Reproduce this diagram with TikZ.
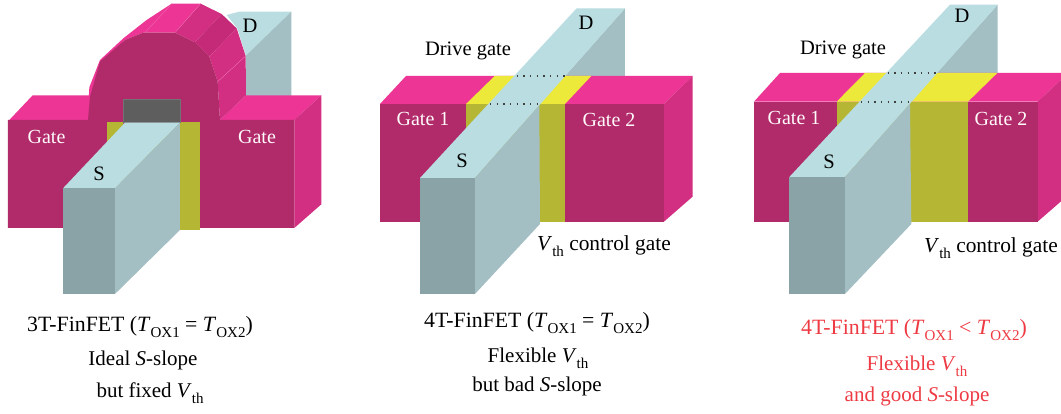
\documentclass[tikz,border=0pt]{standalone}
\usepackage{fontspec}
\setmainfont{Liberation Serif}
\definecolor{pinktop}{HTML}{EC3594}
\definecolor{pinkfront}{HTML}{B12A6A}
\definecolor{pinkside}{HTML}{D22F82}
\definecolor{pinkmid}{HTML}{C42A78}
\definecolor{pinkline}{HTML}{F06BB0}
\definecolor{yeltop}{HTML}{EDE93A}
\definecolor{yelfront}{HTML}{B5B634}
\definecolor{fintop}{HTML}{B9DDE1}
\definecolor{finside}{HTML}{A3BFC3}
\definecolor{finfront}{HTML}{8AA3A7}
\definecolor{capred}{HTML}{EE3A43}
\newcommand{\sbx}[1]{\raisebox{-0.28em}{\fontsize{15}{16}\selectfont #1}}
\newcommand{\Vth}{\textit{V}\sbx{th}}
\newcommand{\Tox}[1]{\textit{T}\sbx{OX#1}}
\tikzset{
  lbl/.style={inner sep=0pt,font=\fontsize{20.5}{22}\selectfont,text=black},
  wlbl/.style={lbl,font=\fontsize{20}{22}\selectfont,text=white!92!pink},
  vtlbl/.style={lbl,font=\fontsize{21.4}{23}\selectfont},
  captxt/.style={lbl,font=\fontsize{21}{23}\selectfont},
  caphead/.style={lbl,font=\fontsize{21.8}{23}\selectfont},
  redcap/.style={captxt,text=capred},
  redhead/.style={caphead,text=capred},
  ptop/.style={fill=pinktop},
  pfront/.style={fill=pinkfront},
  pside/.style={fill=pinkside},
  pmid/.style={fill=pinkmid},
  ytop/.style={fill=yeltop},
  yfront/.style={fill=yelfront},
  ftop/.style={fill=fintop},
  fside/.style={fill=finside},
  ffront/.style={fill=finfront},
  facet/.style={draw=pinkline,line width=0.35pt},
  dots/.style={draw=black!75,line width=1.4pt,dash pattern=on 1.4pt off 5.27pt}
}
\begin{document}
\begin{tikzpicture}[x=1pt,y=-1pt]
\useasboundingbox (0,0) rectangle (1061,413);
\fill[white] (0,0) rectangle (1061,413);
% ---- Panel 1 (coordinates in zoomed px /3)
\begin{scope}[x=0.3333pt,y=-0.3333pt]
  % back fin D
  \path[ftop] (680,45) -- (718,35) -- (874,35) -- (738,168) -- (712,85) -- cycle;
  \path[fside] (737,168) -- (874,35) -- (874,290) -- (737,290) -- cycle;
  % gate tops and side
  \path[ptop] (28,360) -- (98,286) -- (275,286) -- (270,360) -- cycle;
  \path[ptop] (660,360) -- (738,286) -- (964,286) -- (883,360) -- cycle;
  \path[pside] (883,360) -- (964,286) -- (964,613) -- (883,684) -- cycle;
  % arch depth facets
  \path[ptop] (264,340) -- (268,262) -- (300,180) -- (370,115) -- (440,60) -- (515,11) -- (602,11) -- (525,98) -- (430,98) -- (375,120) -- (300,190) -- (272,290) -- cycle;
  \path[pside] (525,98) -- (602,11) -- (665,42) -- (585,127) -- cycle;
  \path[pmid] (585,127) -- (665,42) -- (710,85) -- (628,170) -- cycle;
  \path[pside] (628,170) -- (710,85) -- (737,168) -- (653,245) -- cycle;
  \path[pside] (653,245) -- (737,168) -- (738,286) -- (660,360) -- cycle;
  \draw[facet] (435,98) -- (515,11);
  \draw[facet] (525,98) -- (602,11);
  \draw[facet] (653,245) -- (737,168);
  % front
  \path[pfront] (24,360) -- (264,360) -- (270,290) -- (300,185) -- (375,120) -- (430,98) -- (525,98) -- (585,127) -- (628,170) -- (653,245) -- (660,360) -- (883,360) -- (883,684) -- (24,684) -- cycle;
  % oxide
  \path[yfront] (321,366) rectangle (600,690);
  \path[pfront] (370,366) -- (381,366) -- (370,378) -- cycle;
  % dark channel opening
  \filldraw[fill=black!63,draw=black!55,line width=1.4pt] (371,298) rectangle (542,367);
  % fin
  \path[ftop] (189,565) -- (345,565) -- (540,368) -- (375,368) -- cycle;
  \path[fside] (345,565) -- (540,368) -- (540,690) -- (345,882) -- cycle;
  \path[ffront] (189,565) rectangle (345,882);
\end{scope}
\node[wlbl] (g1l) at (46.5,137) {Gate};
\node[wlbl] (g1r) at (257,137) {Gate};
\node[lbl] (s1) at (99,174) {S};
\node[lbl] (d1) at (250,26) {D};
% ---- Panel 2
\begin{scope}[shift={(370pt,0pt)},x=0.3333pt,y=-0.3333pt]
  \path[fside] (585,228) -- (765,25) -- (765,228) -- cycle;
  \path[ptop] (30,312) -- (108,228) -- (968,228) -- (882,312) -- cycle;
  \path[pside] (882,312) -- (968,228) -- (968,590) -- (882,665) -- cycle;
  \path[pfront] (30,312) rectangle (882,665);
  \path[ytop] (288,312) -- (374,228) -- (664,228) -- (585,312) -- cycle;
  \path[yfront] (288,312) rectangle (585,665);
  \path[ftop] (150,534) -- (315,534) -- (765,25) -- (620,25) -- cycle;
  \path[fside] (315,534) -- (508,316) -- (510,672) -- (315,882) -- cycle;
  \path[ffront] (150,534) rectangle (315,882);
  \coordinate (a2) at (440,228); \coordinate (b2) at (585,228);
  \coordinate (c2) at (360,312); \coordinate (e2) at (505,312);
  \draw[dots] (a2) -- (b2);
  \draw[dots] (c2) -- (e2);
\end{scope}
\node[wlbl] (g21) at (423,119) {Gate 1};
\node[wlbl] (g22) at (609,120) {Gate 2};
\node[lbl] (s2) at (462,161) {S};
\node[lbl] (d2) at (586,23) {D};
\node[lbl] (dg2) at (468,51) {Drive gate};
\node[vtlbl] (vt2) at (604,246) {\Vth\ control gate};
% ---- Panel 3
\begin{scope}[shift={(740pt,0pt)},x=0.3333pt,y=-0.3333pt]
  \path[fside] (590,219) -- (773,14) -- (773,219) -- cycle;
  \path[ptop] (42,305) -- (120,219) -- (985,219) -- (893,305) -- cycle;
  \path[pside] (893,305) -- (985,219) -- (985,585) -- (893,665) -- cycle;
  \path[pfront] (42,305) rectangle (893,665);
  \path[ytop] (290,305) -- (375,219) -- (772,219) -- (684,305) -- cycle;
  \path[yfront] (290,305) rectangle (684,665);
  \path[ftop] (148,531) -- (315,531) -- (773,14) -- (630,14) -- cycle;
  \path[fside] (315,531) -- (510,311) -- (514,672) -- (315,882) -- cycle;
  \path[ffront] (148,531) rectangle (315,882);
  \coordinate (a3) at (443,219); \coordinate (b3) at (590,219);
  \coordinate (c3) at (363,306); \coordinate (e3) at (510,306);
  \draw[dots] (a3) -- (b3);
  \draw[dots] (c3) -- (e3);
\end{scope}
\node[wlbl] (g31) at (794,118) {Gate 1};
\node[wlbl] (g32) at (1001,119) {Gate 2};
\node[lbl] (s3) at (829,162) {S};
\node[lbl] (d3) at (962,16) {D};
\node[lbl] (dg3) at (843,50) {Drive gate};
\node[vtlbl] (vt3) at (991,248) {\Vth\ control gate};
% ---- Captions
\node[caphead] (c11) at (140,327) {3T-FinFET (\Tox{1} = \Tox{2})};
\node[captxt] (c12) at (143,360) {Ideal \textit{S}-slope};
\node[captxt] (c13) at (150,393) {but fixed \Vth};
\node[caphead] (c21) at (537,323) {4T-FinFET (\Tox{1} = \Tox{2})};
\node[captxt] (c22) at (538,358) {Flexible \Vth};
\node[captxt] (c23) at (537,386) {but bad \textit{S}-slope};
\node[redhead] (c31) at (914,330) {4T-FinFET (\Tox{1} < \Tox{2})};
\node[redcap] (c32) at (917,366) {Flexible \Vth};
\node[redcap] (c33) at (917,396) {and good \textit{S}-slope};
\end{tikzpicture}
\end{document}
